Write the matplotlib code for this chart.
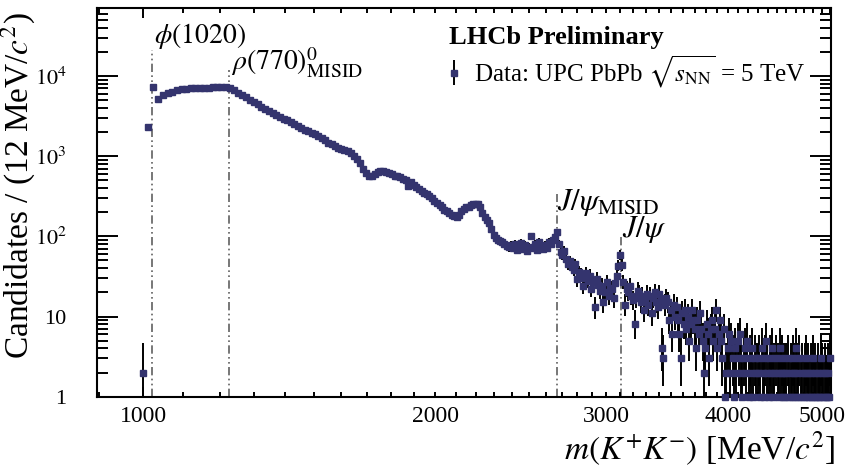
import matplotlib
matplotlib.use('Agg')
import matplotlib.pyplot as plt
from matplotlib.ticker import FixedLocator, FuncFormatter, NullFormatter
import numpy as np

plt.rcParams['font.family'] = ['Liberation Serif', 'DejaVu Serif']
plt.rcParams['mathtext.fontset'] = 'stix'

# Binning: 12 MeV bins, first bin centred at 1000 MeV
bin_width = 12
first_bin = 1000

# Counts per bin, split by mass region
# 1000 - 1696 MeV : phi peak, plateau, rho misid edge and fall
counts_low = [2, 2300, 7200, 5200, 5800, 6100, 6400, 6600, 6800, 6900,
              7000, 7050, 7100, 7000, 7050, 7300, 7400, 7400, 7350, 7100,
              6600, 6200, 5800, 5400, 5050, 4750, 4450, 4100, 3850, 3650,
              3450, 3250, 3100, 2950, 2800, 2650, 2500, 2380, 2250, 2150,
              2050, 1950, 1880, 1780, 1680, 1580, 1470, 1400, 1330, 1280,
              1240, 1200, 1150, 1100, 1020, 920, 820, 700, 620]
# 1708 - 2380 MeV : dip, bump, second bump and fall
counts_mid = [570, 560, 600, 640, 660, 650, 640, 620, 600, 570,
              560, 545, 520, 500, 420, 470, 440, 410, 390, 370,
              350, 335, 320, 300, 280, 260, 245, 230, 215, 205,
              195, 185, 178, 175, 185, 205, 220, 230, 235, 245,
              250, 255, 250, 230, 195, 175, 160, 145, 125, 105,
              95, 90, 88, 84, 80, 76, 73]
# 2392 - 3136 MeV : flat region, J/psi misid spike, J/psi peak
counts_jpsi = [78, 72, 80, 68, 75, 82, 70, 77, 66, 74,
               100, 72, 80, 68, 85, 74, 70, 78, 72, 84,
               80, 90, 97, 112, 80, 63, 58, 66, 52, 45,
               49, 41, 38, 45, 29, 36, 33, 24, 30, 35,
               28, 32, 22, 27, 13, 29, 25, 21, 24, 15,
               20, 27, 18, 23, 22, 17, 26, 32, 43, 58,
               44, 27, 14]
# 3148 - 5104 MeV : low statistics tail
counts_tail = [22, 20, 24, 18, 16, 8, 17, 21, 19, 15, 18, 12, 16, 19, 14,
               18, 11, 17, 20, 15, 13,
               19, 16, 4, 3, 14, 17, 15, 9, 12, 6, 14, 10, 13, 9, 6, 3, 11,
               8, 12, 7, 10, 5, 8, 12, 9,
               7, 4, 9, 6, 11, 7, 5, 2, 4, 8, 6, 3, 7, 9, 5, 7, 12, 4, 6, 9,
               5, 3, 7, 1, 2,
               4, 6, 2, 5, 3, 1, 4, 2, 5, 3, 6, 2, 1, 3, 4, 2, 5, 1, 3, 2,
               4, 1, 3, 2, 0,
               2, 3, 1, 4, 2, 1, 3, 5, 2, 1, 3, 2, 4, 1, 2, 0, 3, 2, 1, 4,
               2, 3, 1, 2, 1,
               2, 3, 1, 0, 2, 1, 3, 2, 1, 4, 2, 1, 3, 1, 2, 0, 1, 2, 3, 1,
               2, 1, 0, 2, 1,
               3, 1, 2, 1, 0, 2, 1, 1, 3, 2, 1, 0, 2, 1, 1, 2, 1, 3]

# Resonance markers: label, mass, top of the line, label baseline (counts)
res_labels = [r'$\phi(1020)$', r'$\rho(770)^{0}_{\mathrm{MISID}}$',
              r'$J/\psi_{\mathrm{MISID}}$', r'$J/\psi$']
res_mass = [1022, 1226, 2666, 3110]
res_top = [21000, 12000, 340, 107]
res_text_y = [26000, 11500, 215, 98]

counts = np.array(counts_low + counts_mid + counts_jpsi + counts_tail, dtype=float)
mass = first_bin + bin_width * np.arange(len(counts))

# drop empty bins, Poisson-like asymmetric errors
ok = counts > 0
n = counts[ok]
err_lo = np.sqrt(n - 0.25)
err_hi = np.sqrt(n + 0.75) + 1

fig = plt.figure(figsize=(8.53, 4.68), dpi=100)
ax = fig.add_axes([0.114, 0.1524, 0.86, 0.8299])

eb = ax.errorbar(mass[ok], n, yerr=[err_lo, err_hi], fmt='s', color='#34346e',
                 ms=4.2, ecolor='black', elinewidth=1.4, capsize=0, zorder=3,
                 label=r'Data: UPC PbPb $\sqrt{s_{\mathrm{NN}}}$ = 5 TeV')
eb[0].set_clip_on(False)

# resonance lines and labels
label_dx = [4, 5, 2, 3]
label_fs = [20, 20, 22, 22]
for lab, m0, top, ty, dx, fs in zip(res_labels, res_mass, res_top, res_text_y,
                                    label_dx, label_fs):
    ax.plot([m0, m0], [1, top], color='#606060', lw=1.2,
            dashes=[5, 2, 1, 2, 1, 2], zorder=1)
    ax.text(m0 + dx, ty, lab, fontsize=fs, ha='left', va='baseline')

ax.set_xscale('log')
ax.set_yscale('log')
ax.set_xlim(897, 5110)
ax.set_ylim(1, 7e4)

# x ticks: decade major at 1000, minors every 100, labels at 1000..5000
ax.xaxis.set_major_locator(FixedLocator([1000]))
ax.xaxis.set_minor_locator(FixedLocator(np.arange(900, 5200, 100)))
ax.xaxis.set_major_formatter(FuncFormatter(lambda v, p: '%d' % v))
ax.xaxis.set_minor_formatter(FuncFormatter(
    lambda v, p: '%d' % v if round(v) in (2000, 3000, 4000, 5000) else ''))


def ylab(v, p):
    if v == 1:
        return '1'
    if v == 10:
        return '10'
    return r'$10^{%d}$' % round(np.log10(v))


ax.yaxis.set_major_formatter(FuncFormatter(ylab))
ax.yaxis.set_minor_formatter(NullFormatter())

ax.tick_params(axis='both', which='both', direction='in', top=True, right=True,
               width=1.4)
ax.tick_params(axis='x', which='major', length=7, labelsize=17, pad=7)
ax.tick_params(axis='x', which='minor', length=3.5, labelsize=17, pad=7)
ax.tick_params(axis='y', which='major', length=15, labelsize=16, pad=22)
ax.tick_params(axis='y', which='minor', length=8)
for sp in ax.spines.values():
    sp.set_linewidth(1.5)

ax.set_xlabel(r'$m(K^{+}K^{-})$ [MeV/$c^{2}$]', fontsize=24, loc='right')
ax.xaxis.set_label_coords(1.006, -0.085)
ax.set_ylabel(r'Candidates / (12 MeV/$c^{2}$)', fontsize=24, loc='top')
ax.yaxis.set_label_coords(-0.081, 0.99)

ax.text(0.48, 0.926, 'LHCb Preliminary', transform=ax.transAxes,
        fontsize=19, fontweight='bold', va='center', ha='left')
ax.legend(loc='center left', bbox_to_anchor=(0.476, 0.836), frameon=False,
          fontsize=18, handlelength=0.6, handletextpad=0.5, borderpad=0,
          borderaxespad=0)

fig.savefig('out.png', dpi=100)
